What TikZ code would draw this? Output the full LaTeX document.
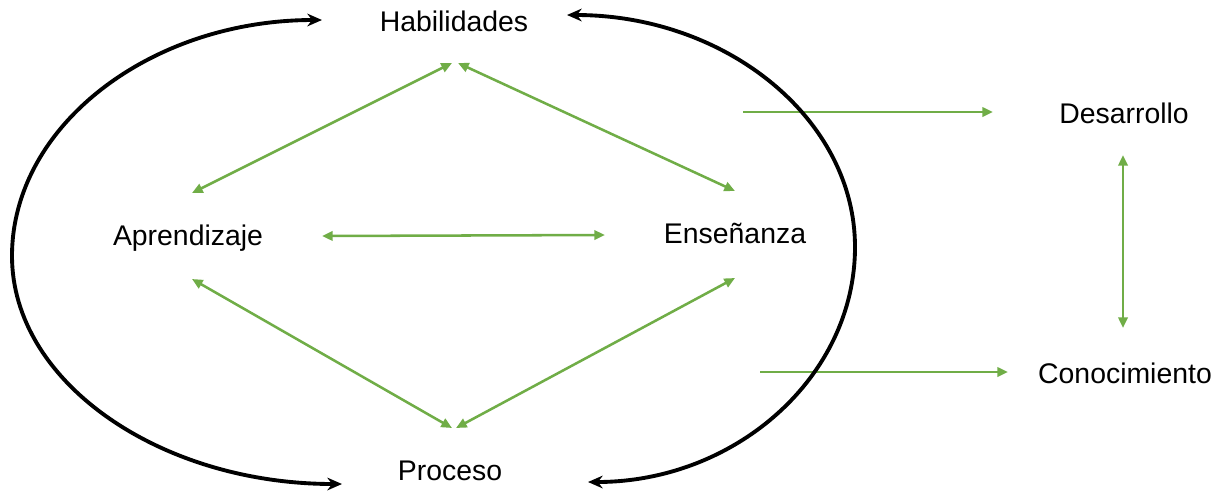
\documentclass[tikz,border=0pt]{standalone}
\usepackage{fontspec}
\setmainfont{Liberation Sans}
\usetikzlibrary{arrows.meta}
\definecolor{grn}{HTML}{70AD47}
\tikzset{
  lbl/.style={anchor=base, inner sep=0pt, font=\fontsize{21.3}{25}\selectfont, text=black},
  garrow/.style={draw=grn, line width=1.9pt, {Triangle[length=8pt,width=7pt]}-{Triangle[length=8pt,width=7pt]}},
  garrowone/.style={draw=grn, line width=1.9pt, -{Triangle[length=8pt,width=7pt]}},
  barrow/.style={draw=black, line width=2.9pt, {Stealth[length=11pt,width=9.5pt]}-{Stealth[length=11pt,width=9.5pt]}}
}
\begin{document}
\begin{tikzpicture}[x=0.75pt,y=-0.75pt]
\useasboundingbox (0,0) rectangle (1219,494);
% labels
\node[lbl] (hab) at (454,31) {Habilidades};
\node[lbl] (apr) at (188,245) {Aprendizaje};
\node[lbl] (ens) at (735,243) {Enseñanza};
\node[lbl] (pro) at (450,480) {Proceso};
\node[lbl] (des) at (1124,123) {Desarrollo};
\node[lbl] (con) at (1125,383) {Conocimiento};
% connector end points
\coordinate (habL) at (452,63);
\coordinate (habR) at (458,63);
\coordinate (aprT) at (192,193);
\coordinate (aprB) at (192,279);
\coordinate (aprR) at (322,236);
\coordinate (ensL) at (605,235);
\coordinate (ensT) at (735,191);
\coordinate (ensB) at (735,278);
\coordinate (proL) at (452,428);
\coordinate (proR) at (456,428);
\coordinate (desB) at (1123,155);
\coordinate (conT) at (1123,328);
\coordinate (desIn) at (743,112);
\coordinate (desTip) at (993,112);
\coordinate (conIn) at (760,372);
\coordinate (conTip) at (1008,372);
\coordinate (lTop) at (322,20);
\coordinate (rTop) at (567,15);
% green connectors
\draw[garrow] (habL) -- (aprT);
\draw[garrow] (habR) -- (ensT);
\draw[garrow] (aprR) -- (ensL);
\draw[garrow] (aprB) -- (proL);
\draw[garrow] (ensB) -- (proR);
\draw[garrow] (desB) -- (conT);
\draw[garrowone] (desIn) -- (desTip);
\draw[garrowone] (conIn) -- (conTip);
% black curved connectors
\draw[barrow] (lTop) arc[start angle=270,end angle=180,x radius=310,y radius=236]
   arc[start angle=180,end angle=90,x radius=330,y radius=228];
\draw[barrow] (rTop) arc[start angle=270,end angle=360,x radius=288,y radius=232]
   arc[start angle=0,end angle=90,x radius=267,y radius=235];
\end{tikzpicture}
\end{document}
